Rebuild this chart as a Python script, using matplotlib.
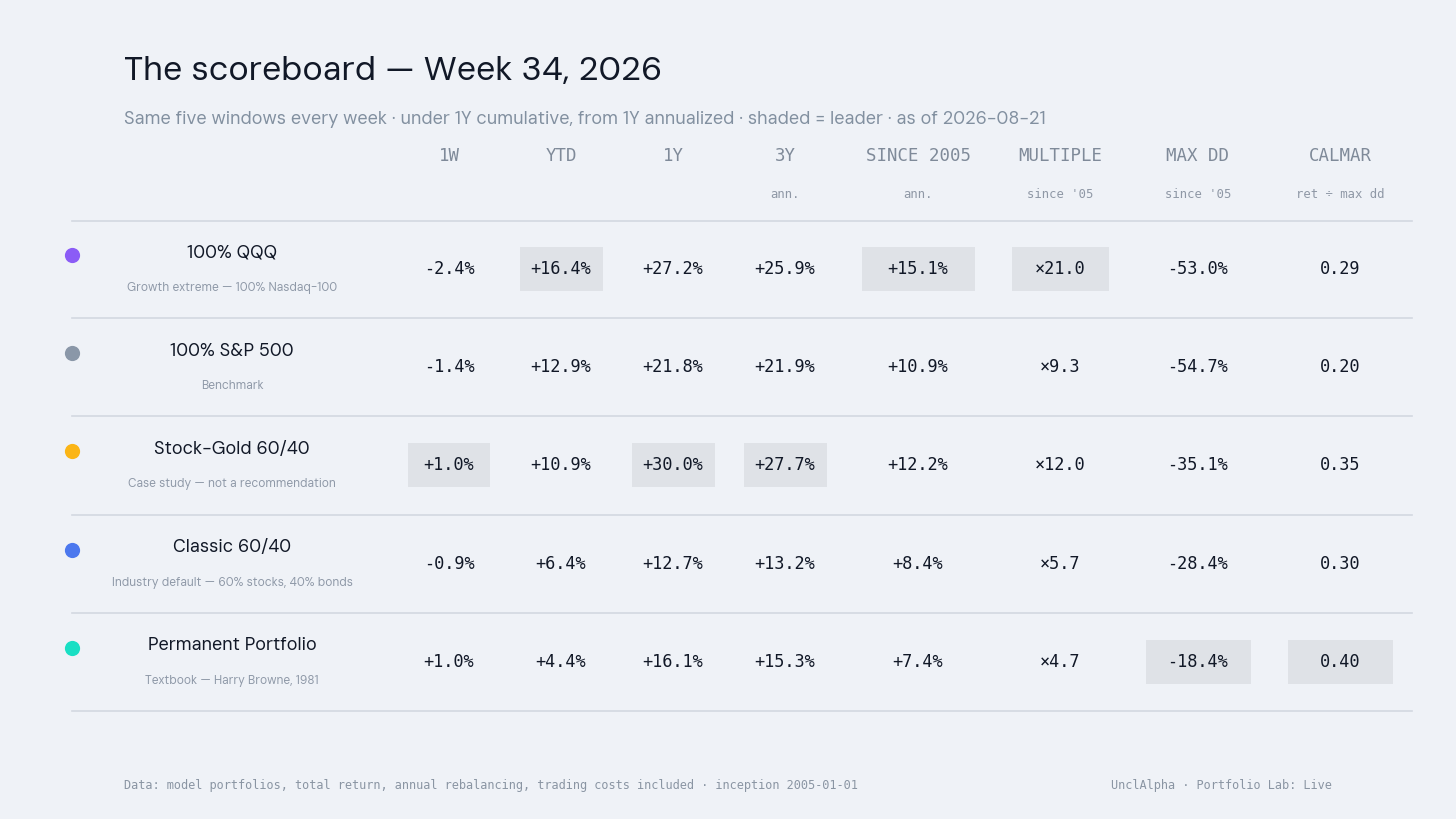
import numpy as np
import matplotlib.pyplot as plt
from matplotlib.patches import Rectangle

# data
portfolios = ["100% QQQ", "100% S&P 500", "Stock-Gold 60/40", "Classic 60/40", "Permanent Portfolio"]
notes = ["Growth extreme — 100% Nasdaq-100", "Benchmark", "Case study — not a recommendation",
         "Industry default — 60% stocks, 40% bonds", "Textbook — Harry Browne, 1981"]
dot_colors = ["#8b5cf6", "#8a97a8", "#fbb516", "#4c78ee", "#19dfc4"]

columns = ["1W", "YTD", "1Y", "3Y", "SINCE 2005", "MULTIPLE", "MAX DD", "CALMAR"]
subheads = ["", "", "", "ann.", "ann.", "since '05", "since '05", "ret ÷ max dd"]

w1 = [-2.4, -1.4, 1.0, -0.9, 1.0]
ytd = [16.4, 12.9, 10.9, 6.4, 4.4]
y1 = [27.2, 21.8, 30.0, 12.7, 16.1]
y3 = [25.9, 21.9, 27.7, 13.2, 15.3]
since05 = [15.1, 10.9, 12.2, 8.4, 7.4]
multiple = [21.0, 9.3, 12.0, 5.7, 4.7]
max_dd = [-53.0, -54.7, -35.1, -28.4, -18.4]
calmar = [0.29, 0.20, 0.35, 0.30, 0.40]

values = [w1, ytd, y1, y3, since05, multiple, max_dd, calmar]
kinds = ["pct", "pct", "pct", "pct", "pct", "mult", "pct", "num"]

def fmt(v, kind):
    if kind == "pct":
        return f"{v:+.1f}%" if v > 0 else f"{v:.1f}%"
    if kind == "mult":
        return f"×{v:.1f}"
    return f"{v:.2f}"

# layout (pixels)
W, H = 1456, 819
bg = "#eff2f7"
col_x = [449, 561, 673, 785, 918, 1060, 1198, 1340]
box_w = [82, 83, 83, 83, 113, 97, 105, 105]
row_y0, row_h = 269, 98.2
box_h = 44

sans = ["DM Sans", "Inter", "DejaVu Sans"]
mono = ["DejaVu Sans Mono"]

fig = plt.figure(figsize=(W / 100, H / 100), dpi=100, facecolor=bg)
ax = fig.add_axes([0, 0, 1, 1])
ax.set_xlim(0, W)
ax.set_ylim(H, 0)
ax.axis("off")

ax.text(124, 71, "The scoreboard — Week 34, 2026", fontsize=24.5, family=sans,
        color="#111827", va="center", ha="left")
ax.text(124, 120, "Same five windows every week · under 1Y cumulative, from 1Y annualized · "
        "shaded = leader · as of 2026-08-21", fontsize=13, family=sans,
        color="#8290a0", va="center", ha="left")

for x, c, s in zip(col_x, columns, subheads):
    ax.text(x, 156, c, fontsize=12.5, family=mono, color="#7f8a99", ha="center", va="center")
    if s:
        ax.text(x, 195, s, fontsize=8.8, family=mono, color="#8f98a6", ha="center", va="center")

line_color = "#d3d8e1"
ax.plot([72, 1412], [221, 221], color=line_color, lw=1.2)

for i, name in enumerate(portfolios):
    yc = row_y0 + i * row_h
    ax.scatter([72], [yc - 14], s=120, color=dot_colors[i], zorder=3, linewidths=0)
    ax.text(232, yc - 16, name, fontsize=13, family=sans, color="#111827", ha="center", va="center")
    ax.text(232, yc + 19, notes[i], fontsize=8.6, family=sans, color="#8f99a8", ha="center", va="center")
    ax.plot([72, 1412], [yc + row_h / 2, yc + row_h / 2], color=line_color, lw=1.2)

for j, (vals, kind) in enumerate(zip(values, kinds)):
    lead = int(np.argmax(vals))
    for i, v in enumerate(vals):
        yc = row_y0 + i * row_h
        if i == lead:
            ax.add_patch(Rectangle((col_x[j] - box_w[j] / 2, yc - box_h / 2), box_w[j], box_h,
                                   facecolor="#dfe2e7", edgecolor="none", zorder=1))
        ax.text(col_x[j], yc, fmt(v, kind), fontsize=12.2, family=mono, color="#111827",
                ha="center", va="center", zorder=2)

ax.text(124, 786, "Data: model portfolios, total return, annual rebalancing, trading costs included · "
        "inception 2005-01-01", fontsize=8.6, family=mono, color="#8a95a3", ha="left", va="center")
ax.text(1332, 786, "UnclAlpha · Portfolio Lab: Live", fontsize=8.6, family=mono, color="#8a95a3",
        ha="right", va="center")

fig.savefig("out.png", dpi=100, facecolor=bg)
